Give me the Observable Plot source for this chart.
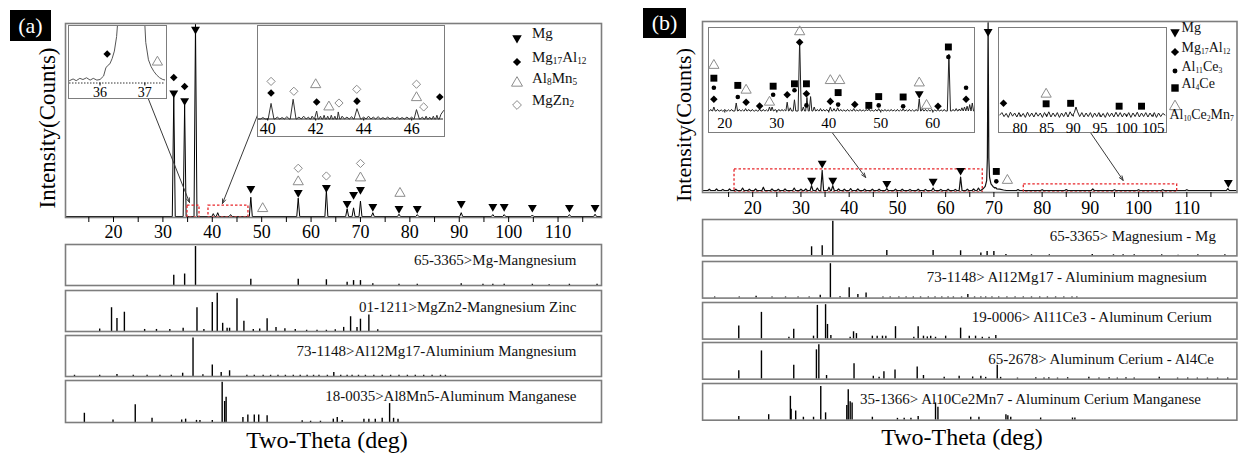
<!DOCTYPE html>
<html><head><meta charset="utf-8">
<script src="https://cdn.jsdelivr.net/npm/d3@7"></script>
<script src="https://cdn.jsdelivr.net/npm/@observablehq/plot@0.6"></script>
<style>
body{margin:0;background:#fff;}
#fig{position:relative;width:1238px;height:454px;font-family:"Liberation Serif","Times New Roman",serif;overflow:hidden;background:#fff;}
#fig svg, #fig svg text, #fig svg tspan{font-family:"Liberation Serif","Times New Roman",serif !important;}
.ib{position:absolute;border:1.5px solid #7d7d7d;background:#fff;box-sizing:border-box;}
.t{position:absolute;white-space:nowrap;color:#000;line-height:1;}
.pl{position:absolute;background:#000;color:#fff;display:flex;align-items:center;justify-content:center;font-size:22px;}
</style></head><body><div id="fig"></div>
<script>
// ---------------- DATA ----------------
const xDomainA = [10.28, 118.8];
const xDomainB = [9.59, 120.4];
const majorTicks = [20, 30, 40, 50, 60, 70, 80, 90, 100, 110];
const minorTicks = [15, 25, 35, 45, 55, 65, 75, 85, 95, 105, 115];

// panel (a) measured pattern: [2theta, intensity]
const peaksA = [[32.2,63],[34.4,58],[36.6,100],[40.2,1.5],[41.1,2],[43.7,1],[47.8,10],[57.4,9.5],[63.1,13.5],[67.3,4],[68.6,4.5],[70.0,8],[72.5,2],[77.8,1.2],[81.5,1],[90.4,2],[96.8,1],[99.1,1],[104.8,0.8],[112.3,1],[117.5,1.2]];
const mgMarksA = [[32.2,64],[34.4,60],[36.6,97],[47.8,14.5],[57.4,12.4],[63.1,15],[67.3,6.7],[68.6,11.4],[70.0,14],[72.5,5.2],[77.8,4.1],[81.5,4.1],[90.4,6.7],[96.8,5.2],[99.1,5.2],[104.8,4.7],[112.3,4.7],[117.5,4.7]];
const mg17al12MarksA = [[32.2,72],[34.4,67.4]];
const al8mn5MarksA = [[50.2,4.1],[57.4,18],[70.0,20],[78.0,12]];
const mgzn2MarksA = [[57.4,25],[63.1,21],[70.0,27.5]];
const zoomBoxesA = [[34.98,37.41,-0.5,5.7],[39.23,47.32,-0.5,5.7]];
const arrowsA = [[27.08,60.8,35.38,7.3],[49.15,52.5,42.06,6.75]];

// inset a1 (35.3-37.5 deg)
const insetA1Domain = [35.32, 37.46];
const insetA1Ticks = [36, 37];
const insetA1Curve = [[35.32,4],[35.4,7],[35.47,4],[35.55,8],[35.62,6],[35.7,9],[35.78,5],[35.85,8],[35.93,5],[36.0,6],[36.08,12],[36.13,26],[36.17,30],[36.22,33],[36.27,42],[36.32,55],[36.37,80],[36.42,130],[36.7,2000],[36.98,130],[37.02,70],[37.08,40],[37.14,28],[37.2,20],[37.26,14],[37.33,9],[37.4,6],[37.46,5]];
const mg17al12MarksA1 = [[36.16,50]];
const al8mn5MarksA1 = [[37.28,36]];

// inset a2 (39.6-47.3 deg)
const insetA2Domain = [39.617, 47.325];
const insetA2Ticks = [40, 42, 44, 46];
const insetA2Peaks = [[39.8,1.5],[40.14,16.6,0.12],[40.4,2],[40.6,1.5],[40.8,2.5],[41.06,21,0.12],[41.3,2],[41.5,3],[41.7,2],[41.85,3],[42.04,8.5],[42.2,3],[42.35,4],[42.5,3],[42.65,4],[42.8,3],[42.94,7.5],[43.1,3],[43.3,2],[43.5,2.5],[43.72,11,0.15],[44.0,2],[44.2,3],[44.4,2],[44.6,2.5],[44.8,1.5],[45.0,2],[45.2,1.5],[45.4,2],[45.6,1.5],[45.8,2],[46.0,2],[46.2,10,0.12],[46.45,2],[46.6,3],[46.75,2],[46.9,3],[47.05,4]];
const insetA2Tail = [[47.22,5],[47.33,9]];
const mg17al12MarksA2 = [[40.14,27.7],[42.04,18],[43.72,19],[47.17,23.4]];
const mgzn2MarksA2 = [[40.14,40],[41.09,29.5],[42.97,17],[43.71,31.6],[46.2,37],[46.5,12.8]];
const al8mn5MarksA2 = [[42.0,36.5],[42.55,12.8],[46.2,22.7]];

// panel (b) measured pattern
const peaksB = [[11.0,0.8],[12.5,1],[13.8,0.7],[15.2,1],[16.5,0.8],[17.9,1.5],[19.3,0.8],[20.6,1],[22.2,2],[24.0,1],[25.3,0.8],[26.7,1],[28.6,1.5],[30.0,0.8],[31.0,1],[32.2,3],[33.4,1.5],[34.4,12.3],[35.8,2],[36.6,3],[37.8,1],[39.0,0.8],[40.3,1.2],[41.8,1],[43.2,0.8],[44.8,0.8],[46.2,0.8],[47.8,1.2],[49.6,0.8],[51.0,0.8],[52.6,0.7],[54.3,0.8],[55.8,0.7],[57.4,1.5],[59.0,0.7],[60.5,0.8],[62.0,0.7],[63.1,8.2],[64.5,0.8],[65.8,1],[66.8,1.5],[75,0.6],[80,0.5],[85,0.6],[90.5,1],[95,0.5],[100,0.5],[105,0.5],[110,0.5],[118.5,1.2]];
const mainPeakB = [[67.3,0],[67.8,1.2],[68.2,2.5],[68.5,6],[68.65,20],[68.8,103],[68.95,20],[69.1,8],[69.4,4],[69.8,2.5],[70.2,1.5],[70.4,1.8],[70.6,1],[71.2,0.8],[72.0,0.3],[72.6,0]];
const mgMarksB = [[32.2,6.2],[34.4,16.7],[36.6,6.2],[47.8,4.3],[57.4,5.6],[63.1,12.3],[68.8,97.5],[118.6,4.9]];
const al4ceMarksB = [[70.5,11.7]];
const al11ce3MarksB = [[70.5,5.6]];
const al10MarksB = [[72.8,6.2]];
const zoomBoxesB = [[16.23,67.69,-1.23,13.0],[76.2,108.0,-1.23,3.7]];
const arrowsB = [[36.56,35.2,43.41,8.0],[90.1,35.2,96.8,6.2]];

// inset b1 (17-68 deg)
const insetB1Domain = [17.06, 67.83];
const insetB1Ticks = [20, 30, 40, 50, 60];
const insetB1Peaks = [[17.3,2],[17.9,5],[18.6,2],[19.3,1.5],[20.0,2],[20.7,1.5],[21.3,2],[22.2,10],[22.8,2],[23.4,1.5],[24.0,3],[24.6,2],[25.3,2],[26.0,1.5],[26.7,2.5],[27.4,2],[28.0,1.5],[28.6,5],[29.1,5],[29.7,2],[30.4,2],[31.0,2],[31.5,1.5],[32.0,11],[32.6,4],[33.4,14],[34.4,89,0.3],[35.1,5],[35.8,17],[36.5,18],[37.2,5],[37.8,2],[38.4,3],[39.0,2],[39.6,2],[40.3,5],[41.0,3],[41.7,4],[42.3,2],[42.9,1.5],[43.6,2],[44.2,1.5],[44.8,3],[45.4,1.5],[46.0,2],[46.6,1.5],[47.2,2],[47.7,3],[48.3,1.5],[49.0,2],[49.6,3],[50.2,1.5],[50.8,2],[51.4,1.5],[52.0,2],[52.6,1.5],[53.2,2],[53.8,1.5],[54.3,3],[54.9,1.5],[55.5,2],[56.1,1.5],[56.8,2],[57.4,15],[58.0,3],[58.6,2],[59.2,1.5],[59.8,2],[60.4,1.5],[61.0,2],[61.6,1.5],[62.2,2],[63.1,71,0.3],[63.9,2],[64.5,3],[65.1,2.5],[65.6,4],[66.1,5],[66.6,6],[67.1,8],[67.6,10]];
const al10MarksB1 = [[17.9,57],[24.1,26],[28.6,11],[34.4,99],[40.3,38],[42.1,38],[57.4,35],[58.8,7]];
const al4ceMarksB1 = [[17.9,41],[22.5,32],[29.3,31],[33.4,34],[35.7,34],[41.8,23],[47.7,7],[49.6,18],[54.3,17.5],[63.0,80]];
const al11ce3MarksB1 = [[17.9,29],[22.5,17.5],[29.3,20.4],[33.4,26],[35.7,7],[41.8,8],[49.6,7],[54.3,6],[63.0,67.5],[66.4,29]];
const mg17al12MarksB1 = [[17.9,14.6],[24.1,11],[26.7,6.2],[32.0,20.4],[34.4,86],[35.7,21.6],[40.3,12],[45.0,8],[61.0,6],[66.4,14.6]];
const mgMarksB1 = [[57.4,21.6]];

// inset b2 (76-107 deg)
const insetB2Domain = [76.15, 107.3];
const insetB2Ticks = [80, 85, 90, 95, 100, 105];
const insetB2Curve = [[76.2,0],[76.6,3],[77.0,-2],[77.4,2],[77.8,-3],[78.2,3.5],[78.6,-1.5],[79.0,2.5],[79.4,-2.5],[79.8,3],[80.2,-2],[80.6,2],[81.0,-3],[81.4,3.5],[81.8,-2],[82.2,2.5],[82.6,-2.5],[83.0,3],[83.4,-1.5],[83.8,2.5],[84.2,-3],[84.6,3],[85.0,-2],[85.4,4],[85.8,-2.5],[86.2,2.5],[86.6,-2],[87.0,3],[87.4,-3],[87.8,2.5],[88.2,-2],[88.6,3.5],[89.0,-2.5],[89.4,4],[89.8,-1],[90.2,3],[90.5,10],[90.8,4],[91.2,-2],[91.6,3],[92.0,-2.5],[92.4,2.5],[92.8,-2],[93.2,3],[93.6,-3],[94.0,2.5],[94.4,-2],[94.8,3],[95.2,-2.5],[95.6,2],[96.0,-3],[96.4,3],[96.8,-2],[97.2,2.5],[97.6,-2.5],[98.0,3.5],[98.4,-2],[98.8,3],[99.2,-2.5],[99.6,2.5],[100.0,-2],[100.4,3],[100.8,-3],[101.2,2.5],[101.6,-2],[102.0,3.5],[102.4,-2.5],[102.8,2.5],[103.2,-2],[103.6,3],[104.0,-2.5],[104.4,2.5],[104.8,-2],[105.2,3],[105.6,-3],[106.0,2.5],[106.4,-2],[106.8,2],[107.2,0]];
const mg17al12MarksB2 = [[76.9,14.6]];
const al10MarksB2 = [[84.9,26]];
const al4ceMarksB2 = [[84.9,14],[89.5,14.6],[98.6,11],[102.8,11]];

// reference cards: [2theta, relative intensity]
const mgCard = [[32.2,25],[34.4,28],[36.6,95],[47.8,15],[57.4,15],[63.1,14],[67.3,8],[68.6,12],[70.0,12],[72.5,4],[77.8,3],[81.5,3],[90.4,4],[94.8,3],[96.8,3],[99.1,3],[104.8,3],[108.2,2],[112.3,3],[117.9,3]];
const mgzn2Card = [[17.2,6],[19.6,58],[20.7,32],[22.2,47],[26.3,5],[28.7,5],[31.4,5],[34.1,8],[36.9,58],[38.3,5],[40.0,71],[41.0,93],[42.1,20],[43.0,8],[43.5,8],[45.0,80],[46.4,25],[48.3,5],[49.6,6],[51.1,31],[52.9,10],[54.7,7],[56.8,5],[59.1,3],[61.2,3],[63.1,3],[64.9,4],[66.6,10],[68.0,36],[69.3,10],[70.0,30],[71.7,40],[73.5,4]];
const al12mg17Card = [[12.1,3],[17.2,3],[20.7,5],[24.0,3],[26.8,3],[29.4,3],[31.7,3],[34.0,8],[36.1,94],[38.1,4],[40.0,28],[41.8,10],[43.5,14],[47.0,3],[48.5,3],[50.3,3],[51.8,3],[53.3,3],[54.8,3],[56.4,3],[57.8,3],[59.2,3],[60.5,3],[61.6,3],[63.3,3],[64.6,10],[66.0,3],[67.3,3],[68.3,3],[69.6,3],[71.0,3],[72.7,3],[74.4,3],[76.1,3],[77.8,3],[79.5,3],[81.1,3],[82.8,3],[84.5,3],[86.2,3],[87.2,3]];
const al8mn5Card = [[14.1,22],[19.9,6],[24.4,42],[27.8,10],[33.8,6],[34.6,8],[36.8,5],[37.5,5],[40.0,5],[42.0,96],[42.5,50],[42.8,60],[46.2,12],[47.2,18],[48.5,18],[49.4,18],[51.1,16],[58.2,4],[59.9,3],[61.9,3],[64.5,8],[65.3,12],[66.3,5],[70.7,8],[71.7,8],[73.0,8],[74.4,10],[75.9,45],[76.7,10],[77.6,8]];
const al11ce3Card = [[17.1,36],[21.8,73],[27.5,5],[28.5,27],[32.6,8],[33.4,92],[35.1,94],[35.5,40],[36.2,10],[40.2,5],[40.9,20],[41.5,15],[44.8,8],[45.8,8],[46.9,8],[47.6,8],[49.6,34],[53.4,5],[54.3,34],[55.4,8],[56.2,6],[56.9,8],[57.9,5],[60.0,8],[63.1,30],[64.9,8],[66.2,8],[67.6,5],[69.0,5],[70.4,10]];
const al4ceCard = [[17.1,23],[21.8,77],[28.5,38],[33.2,80],[33.7,94],[35.3,10],[41.0,42],[45.0,8],[46.2,5],[47.2,20],[49.5,25],[54.1,33],[55.4,10],[59.7,5],[62.8,8],[65.6,6],[67.3,8],[68.3,5],[70.7,38],[71.4,5],[74.9,3],[78.7,4],[80.4,3],[81.4,4],[83.2,3],[85.3,4],[89.7,5],[91.8,3],[93.9,4],[95.6,3],[97.4,4],[99.1,3],[104.3,5],[108.1,3],[110.2,3],[112.2,3],[114.3,3],[116.4,3],[118.5,3]];
const al10ce2mn7Card = [[17.1,10],[23.3,15],[27.8,65],[27.95,30],[28.9,25],[30.5,8],[32.6,8],[34.1,92],[35.1,20],[39.5,40],[39.8,83],[40.2,50],[40.6,47],[44.8,8],[50.0,5],[51.4,5],[52.8,5],[54.3,10],[57.9,47],[58.4,35],[65.2,8],[66.9,8],[72.5,15],[72.9,12],[73.5,8],[79.7,6],[86.3,6],[86.8,6]];

const cardLabelsA = ["65-3365>Mg-Mangnesium", "01-1211>MgZn2-Mangnesium Zinc", "73-1148>Al12Mg17-Aluminium Mangnesium", "18-0035>Al8Mn5-Aluminum Manganese"];
const cardLabelsB = ["65-3365> Magnesium - Mg", "73-1148> Al12Mg17 - Aluminium magnesium", "19-0006> Al11Ce3 - Aluminum Cerium", "65-2678> Aluminum Cerium - Al4Ce", "35-1366> Al10Ce2Mn7 - Aluminum Cerium Manganese"];
const legendA = ["Mg", "Mg17Al12", "Al8Mn5", "MgZn2"];
const legendB = ["Mg", "Mg17Al12", "Al11Ce3", "Al4Ce", "Al10Ce2Mn7"];
const yTitle = "Intensity(Counts)";
const xTitle = "Two-Theta (deg)";
const panelLabels = ["(a)", "(b)"];

// ---------------- STYLE ----------------
const FONT = '"Liberation Serif","Times New Roman",serif';
const GRAY = "#7d7d7d";
const phaseStyle = {
  Mg:        {symbol: "triangle", rotate: 180, fill: "#000", stroke: "none", r: 3.3},
  Mg17Al12:  {symbol: "diamond2", fill: "#000", stroke: "none", r: 3.4},
  Al8Mn5:    {symbol: "triangle", fill: "none", stroke: "#8c8c8c", r: 3.8},
  Al10Ce2Mn7:{symbol: "triangle", fill: "none", stroke: "#8c8c8c", r: 3.8},
  MgZn2:     {symbol: "diamond2", fill: "none", stroke: "#8c8c8c", r: 3.7},
  Al11Ce3:   {symbol: "circle", fill: "#000", stroke: "none", r: 2.3},
  Al4Ce:     {symbol: "square", fill: "#000", stroke: "none", r: 3.9}
};
const d3sym = {triangle: d3.symbolTriangle, diamond2: d3.symbolDiamond2, circle: d3.symbolCircle, square: d3.symbolSquare};
const intFmt = d => String(d);

const fig = document.getElementById("fig");
function put(node, left, top) {
  const d = document.createElement("div");
  d.style.cssText = `position:absolute;left:${left}px;top:${top}px;`;
  d.appendChild(node); fig.appendChild(d); return d;
}
function putInset(node, left, top, w, h) {
  const d = document.createElement("div");
  d.className = "ib";
  d.style.cssText = `left:${left}px;top:${top}px;width:${w}px;height:${h}px;`;
  d.appendChild(node); fig.appendChild(d); return d;
}
function spikes(peaks, w, lo, hi, extra = []) {
  const pts = [[lo, 0], [hi, 0]];
  for (const [p, h, ww] of peaks) { const q = ww ?? w; pts.push([p - q, 0], [p, h], [p + q, 0]); }
  for (const e of extra) pts.push(e);
  pts.sort((a, b) => a[0] - b[0]);
  return pts.map(([x, y]) => ({x, y}));
}
const toXY = a => a.map(([x, y]) => ({x, y}));
function markers(groups, scale = 1) {
  return groups.map(([ph, pts]) => {
    const s = phaseStyle[ph];
    return Plot.dot(toXY(pts), {x: "x", y: "y", symbol: s.symbol, r: s.r * scale, fill: s.fill, stroke: s.stroke, strokeWidth: 1, rotate: s.rotate ?? 0});
  });
}
const baseStyle = (fs) => ({fontFamily: FONT, fontSize: fs + "px", color: "#000", background: "transparent", overflow: "visible"});

// ---------------- PANEL (a) MAIN ----------------
const mainA = Plot.plot({
  width: 620, height: 245, marginLeft: 65, marginRight: 19, marginTop: 23, marginBottom: 28,
  x: {domain: xDomainA, label: null},
  y: {domain: [-0.5, 100], axis: null},
  style: baseStyle(18),
  marks: [
    Plot.line(spikes(peaksA, 0.3, xDomainA[0], xDomainA[1]), {x: "x", y: "y", stroke: "#000", strokeWidth: 1, clip: true}),
    Plot.rect(zoomBoxesA.map(([x1, x2, y1, y2]) => ({x1, x2, y1, y2})), {x1: "x1", x2: "x2", y1: "y1", y2: "y2", fill: "none", stroke: "#e8262a", strokeWidth: 1.3, strokeDasharray: "2.5,2"}),
    Plot.arrow(arrowsA.map(([x1, y1, x2, y2]) => ({x1, y1, x2, y2})), {x1: "x1", y1: "y1", x2: "x2", y2: "y2", stroke: "#3a3a3a", strokeWidth: 1, headLength: 7, headAngle: 40}),
    ...markers([["Mg", mgMarksA], ["Mg17Al12", mg17al12MarksA], ["Al8Mn5", al8mn5MarksA], ["MgZn2", mgzn2MarksA]]),
    Plot.frame({stroke: GRAY, strokeWidth: 1.6}),
    Plot.axisX({ticks: minorTicks, tickFormat: () => "", tickSize: 5, label: null}),
    Plot.axisX({ticks: majorTicks, tickFormat: intFmt, tickSize: 5, tickPadding: 3, label: null, fontSize: 18})
  ]
});
put(mainA, 0, 0);

// inset a1
const insA1 = Plot.plot({
  width: 96, height: 71, marginLeft: 0, marginRight: 0, marginTop: 0, marginBottom: 14.5,
  x: {domain: insetA1Domain, label: null}, y: {domain: [0, 97.4], axis: null},
  style: baseStyle(14),
  marks: [
    Plot.ruleY([0], {stroke: "#333", strokeWidth: 1, strokeDasharray: "1.5,1.5"}),
    Plot.line(toXY(insetA1Curve), {x: "x", y: "y", stroke: "#555", strokeWidth: 1, clip: true}),
    ...markers([["Mg17Al12", mg17al12MarksA1], ["Al8Mn5", al8mn5MarksA1]]),
    Plot.axisX({ticks: insetA1Ticks, tickFormat: intFmt, tickSize: 3, tickPadding: 1, label: null, fontSize: 14})
  ]
});
putInset(insA1, 68, 25, 99, 74);

// inset a2
const insA2 = Plot.plot({
  width: 185, height: 109, marginLeft: 0, marginRight: 0, marginTop: 0, marginBottom: 16.5,
  x: {domain: insetA2Domain, label: null}, y: {domain: [0, 98.4], axis: null},
  style: baseStyle(16),
  marks: [
    Plot.ruleY([0], {stroke: "#222", strokeWidth: 1.2}),
    Plot.line(spikes(insetA2Peaks, 0.1, insetA2Domain[0], 47.1, [[47.15, 0], ...insetA2Tail]), {x: "x", y: "y", stroke: "#333", strokeWidth: 1}),
    ...markers([["Mg17Al12", mg17al12MarksA2], ["MgZn2", mgzn2MarksA2], ["Al8Mn5", al8mn5MarksA2]]),
    Plot.axisX({ticks: insetA2Ticks, tickFormat: intFmt, tickSize: 2, tickPadding: 2, label: null, fontSize: 16})
  ]
});
putInset(insA2, 257, 25, 188, 112);

// reference cards (a)
const cardsA = [mgCard, mgzn2Card, al12mg17Card, al8mn5Card];
const boxesA = [[244, 41], [290, 41], [335, 41], [380, 42]];
const labelDyA = [10, 11, 10, 10];
cardsA.forEach((card, i) => {
  const [top, h] = boxesA[i];
  const p = Plot.plot({
    width: 620, height: h, marginLeft: 65, marginRight: 19, marginTop: 0, marginBottom: 0,
    x: {domain: xDomainA, axis: null}, y: {domain: [0, 100], axis: null},
    style: baseStyle(15),
    marks: [
      Plot.ruleX(toXY(card), {x: "x", y1: 0, y2: "y", stroke: "#000", strokeWidth: 1.4}),
      Plot.text([cardLabelsA[i]], {frameAnchor: "top-right", textAnchor: "end", dx: -25, dy: labelDyA[i], fill: "#111", fontSize: 15}),
      Plot.frame({stroke: GRAY, strokeWidth: 1.6})
    ]
  });
  put(p, 0, top);
});

// ---------------- PANEL (b) MAIN ----------------
const mainB = Plot.plot({
  width: 618, height: 225, marginLeft: 82, marginRight: 1.5, marginTop: 21, marginBottom: 33,
  x: {domain: xDomainB, label: null},
  y: {domain: [-1.23, 103.7], axis: null},
  style: baseStyle(18),
  marks: [
    Plot.line(spikes(peaksB, 0.3, xDomainB[0], xDomainB[1], mainPeakB), {x: "x", y: "y", stroke: "#111", strokeWidth: 1.2, clip: true}),
    Plot.rect(zoomBoxesB.map(([x1, x2, y1, y2]) => ({x1, x2, y1, y2})), {x1: "x1", x2: "x2", y1: "y1", y2: "y2", fill: "none", stroke: "#e8262a", strokeWidth: 1.3, strokeDasharray: "2.5,2"}),
    Plot.arrow(arrowsB.map(([x1, y1, x2, y2]) => ({x1, y1, x2, y2})), {x1: "x1", y1: "y1", x2: "x2", y2: "y2", stroke: "#3a3a3a", strokeWidth: 1, headLength: 7, headAngle: 40}),
    ...markers([["Mg", mgMarksB], ["Al4Ce", al4ceMarksB], ["Al11Ce3", al11ce3MarksB], ["Al10Ce2Mn7", al10MarksB]]),
    Plot.frame({stroke: GRAY, strokeWidth: 1.6}),
    Plot.axisX({ticks: minorTicks, tickFormat: () => "", tickSize: 5, label: null}),
    Plot.axisX({ticks: majorTicks, tickFormat: intFmt, tickSize: 5, tickPadding: 4, label: null, fontSize: 18})
  ]
});
put(mainB, 620, 0);

// inset b1
const insB1 = Plot.plot({
  width: 264, height: 103, marginLeft: 0, marginRight: 0, marginTop: 0, marginBottom: 20.5,
  x: {domain: insetB1Domain, label: null}, y: {domain: [0, 103.1], axis: null},
  style: baseStyle(15),
  marks: [
    Plot.line(spikes(insetB1Peaks, 0.25, insetB1Domain[0], insetB1Domain[1]), {x: "x", y: "y", stroke: "#222", strokeWidth: 1}),
    ...markers([["Al10Ce2Mn7", al10MarksB1], ["Al4Ce", al4ceMarksB1], ["Al11Ce3", al11ce3MarksB1], ["Mg17Al12", mg17al12MarksB1], ["Mg", mgMarksB1]]),
    Plot.axisX({ticks: insetB1Ticks, tickFormat: intFmt, tickSize: 2, tickPadding: 4, label: null, fontSize: 15})
  ]
});
putInset(insB1, 708, 27, 267, 106);

// inset b2
const insB2 = Plot.plot({
  width: 166, height: 103, marginLeft: 0, marginRight: 0, marginTop: 0, marginBottom: 16.5,
  x: {domain: insetB2Domain, label: null}, y: {domain: [0, 108.1], axis: null},
  style: baseStyle(15),
  marks: [
    Plot.line(toXY(insetB2Curve), {x: "x", y: "y", stroke: "#222", strokeWidth: 1}),
    ...markers([["Mg17Al12", mg17al12MarksB2], ["Al10Ce2Mn7", al10MarksB2], ["Al4Ce", al4ceMarksB2]]),
    Plot.axisX({ticks: insetB2Ticks, tickFormat: intFmt, tickSize: 2, tickPadding: 5, label: null, fontSize: 15})
  ]
});
putInset(insB2, 998, 27, 169, 106);

// reference cards (b)
const cardsB = [mgCard, al12mg17Card, al11ce3Card, al4ceCard, al10ce2mn7Card];
const boxesB = [[219.3, 36.4], [260.7, 36.6], [301.7, 36.6], [342.3, 36.7], [383.3, 36.7]];
const labelDxB = [-21, -30, -25, -23, -36];
const labelDyB = [11, 10, 9, 11, 10];
cardsB.forEach((card, i) => {
  const [top, h] = boxesB[i];
  const p = Plot.plot({
    width: 618, height: h, marginLeft: 82, marginRight: 1.5, marginTop: 0, marginBottom: 0,
    x: {domain: xDomainB, axis: null}, y: {domain: [0, 100], axis: null},
    style: baseStyle(15),
    marks: [
      Plot.ruleX(toXY(card), {x: "x", y1: 0, y2: "y", stroke: "#000", strokeWidth: 1.4}),
      Plot.text([cardLabelsB[i]], {frameAnchor: "top-right", textAnchor: "end", dx: labelDxB[i], dy: labelDyB[i], fill: "#111", fontSize: 15}),
      Plot.frame({stroke: GRAY, strokeWidth: 1.6})
    ]
  });
  put(p, 620, top);
});

// ---------------- LEGENDS ----------------
function formula(sel, name, fs, subRatio) {
  const parts = name.split(/(\d+)/).filter(s => s.length);
  let sub = false;
  for (const part of parts) {
    const isNum = /^\d+$/.test(part);
    const t = sel.append("tspan").text(part);
    if (isNum) { t.attr("font-size", fs * subRatio).attr("dy", sub ? 0 : 2); sub = true; }
    else { t.attr("font-size", fs).attr("dy", sub ? -2 : 0); sub = false; }
  }
}
function legend(items, opts) {
  const svg = d3.create("svg").attr("width", opts.w).attr("height", opts.h).style("overflow", "visible").style("font-family", FONT);
  items.forEach((name, i) => {
    const s = phaseStyle[name];
    const y = opts.rows[i];
    svg.append("path")
      .attr("d", d3.symbol(d3sym[s.symbol], Math.PI * s.r * s.r * 1.15)())
      .attr("transform", `translate(${opts.symX},${y}) rotate(${s.rotate ?? 0})`)
      .attr("fill", s.fill).attr("stroke", s.stroke === "none" ? null : s.stroke).attr("stroke-width", 1);
    const wrap = opts.wrap && opts.wrap[i];
    const tx = wrap ? wrap[0] : opts.textX;
    const ty = wrap ? wrap[1] : y;
    const t = svg.append("text").attr("x", tx).attr("y", ty).attr("dy", "0.35em").attr("fill", "#111");
    formula(t, name, opts.fs, opts.sub);
  });
  return svg.node();
}
put(legend(legendA, {w: 100, h: 100, symX: 17, textX: 32, rows: [13, 37, 58, 80], fs: 15, sub: 0.62}), 500, 25);
put(legend(legendB, {w: 70, h: 110, symX: 10, textX: 16.5, rows: [12, 32, 51, 68, 86.5], fs: 14, sub: 0.55, wrap: {4: [4.5, 99]}}), 1165, 20);

// ---------------- TITLES ----------------
function text(str, cx, cy, fs, rot) {
  const d = document.createElement("div");
  d.className = "t"; d.textContent = str;
  d.style.cssText += `left:${cx}px;top:${cy}px;font-size:${fs}px;transform:translate(-50%,-50%)${rot ? " rotate(-90deg)" : ""};`;
  fig.appendChild(d);
}
text(yTitle, 47, 128, 23, true);
text(yTitle, 684, 125, 22, true);
text(xTitle, 327, 440, 24, false);
text(xTitle, 962, 437, 24, false);
[[panelLabels[0], 10, 10, 41, 31], [panelLabels[1], 643, 8, 43, 30]].forEach(([s, l, t, w, h]) => {
  const d = document.createElement("div");
  d.className = "pl"; d.textContent = s;
  d.style.cssText += `left:${l}px;top:${t}px;width:${w}px;height:${h}px;`;
  fig.appendChild(d);
});
</script></body></html>
